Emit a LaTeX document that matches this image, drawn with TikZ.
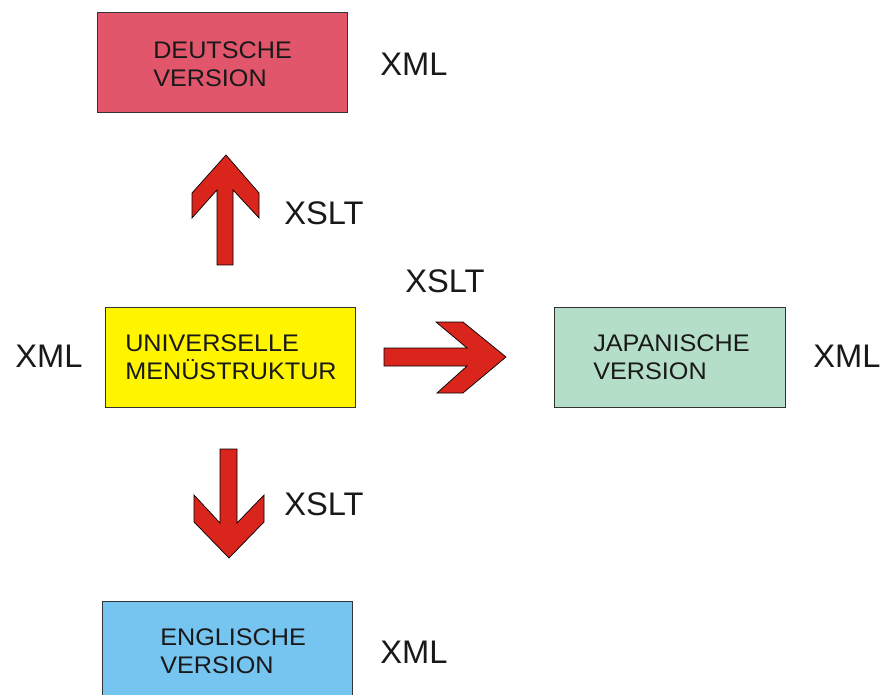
\documentclass[tikz,border=0pt]{standalone}
\usepackage{fontspec}
\setmainfont{Liberation Sans}
\newfontfamily\boxfont[FakeStretch=1.05]{Liberation Sans}
\newlength{\du}
\setlength{\du}{0.75pt}
\definecolor{deutschcolor}{rgb}{0.886000, 0.337000, 0.424000}
\definecolor{universalcolor}{rgb}{1.000000, 0.960000, 0.000000}
\definecolor{japancolor}{rgb}{0.710000, 0.871000, 0.784000}
\definecolor{englishcolor}{rgb}{0.463000, 0.769000, 0.941000}
\definecolor{arrowcolor}{rgb}{0.855000, 0.145000, 0.114000}
\definecolor{framecolor}{rgb}{0.200000, 0.200000, 0.200000}
\tikzset{
  versionbox/.style={draw=framecolor, line width=1.000000\du},
  blockarrow/.style={fill=arrowcolor, draw=black, line width=0.700000\du, line join=miter},
  boxtext/.style={anchor=west, inner sep=0pt, align=left,
    font=\boxfont\fontsize{18pt}{21.2pt}\selectfont, text=black!90},
  formatlabel/.style={anchor=west, inner sep=0pt,
    font=\fontsize{24.5pt}{28pt}\selectfont, text=black!90}
}
\begin{document}
\begin{tikzpicture}
\pgftransformxscale{1.000000}
\pgftransformyscale{-1.000000}
\useasboundingbox (0\du,0\du) rectangle (881\du,695\du);
% deutsche version
\fill[deutschcolor] (97.000000\du,13.000000\du)--(97.000000\du,113.000000\du)--(347.000000\du,113.000000\du)--(347.000000\du,13.000000\du)--cycle;
\draw[versionbox] (97.000000\du,13.000000\du)--(97.000000\du,113.000000\du)--(347.000000\du,113.000000\du)--(347.000000\du,13.000000\du)--cycle;
\node[boxtext] (deutsch) at (153.000000\du,64.000000\du){DEUTSCHE\\VERSION};
\node[formatlabel] (xmldeutsch) at (380.000000\du,64.000000\du){XML};
% universelle struktur
\fill[universalcolor] (105.000000\du,307.000000\du)--(105.000000\du,407.000000\du)--(355.000000\du,407.000000\du)--(355.000000\du,307.000000\du)--cycle;
\draw[versionbox] (105.000000\du,307.000000\du)--(105.000000\du,407.000000\du)--(355.000000\du,407.000000\du)--(355.000000\du,307.000000\du)--cycle;
\node[boxtext] (universal) at (125.000000\du,357.000000\du){UNIVERSELLE\\MENÜSTRUKTUR};
\node[formatlabel] (xmluniversal) at (15.000000\du,356.000000\du){XML};
% japanische version
\fill[japancolor] (554.000000\du,307.000000\du)--(554.000000\du,407.000000\du)--(785.000000\du,407.000000\du)--(785.000000\du,307.000000\du)--cycle;
\draw[versionbox] (554.000000\du,307.000000\du)--(554.000000\du,407.000000\du)--(785.000000\du,407.000000\du)--(785.000000\du,307.000000\du)--cycle;
\node[boxtext] (japan) at (593.000000\du,357.000000\du){JAPANISCHE\\VERSION};
\node[formatlabel] (xmljapan) at (813.000000\du,356.000000\du){XML};
% englische version
\fill[englishcolor] (102.000000\du,601.000000\du)--(102.000000\du,701.000000\du)--(352.000000\du,701.000000\du)--(352.000000\du,601.000000\du)--cycle;
\draw[versionbox] (102.000000\du,601.000000\du)--(102.000000\du,701.000000\du)--(352.000000\du,701.000000\du)--(352.000000\du,601.000000\du)--cycle;
\node[boxtext] (english) at (160.000000\du,651.000000\du){ENGLISCHE\\VERSION};
\node[formatlabel] (xmlenglish) at (380.000000\du,652.000000\du){XML};
% transformationen
\draw[blockarrow] (226.000000\du,155.000000\du)--(192.000000\du,193.000000\du)--(192.000000\du,218.000000\du)--(217.000000\du,190.000000\du)--(217.000000\du,265.000000\du)--(233.000000\du,265.000000\du)--(233.000000\du,190.000000\du)--(259.000000\du,218.000000\du)--(259.000000\du,193.000000\du)--cycle;
\node[formatlabel] (xsltdeutsch) at (284.000000\du,213.000000\du){XSLT};
\draw[blockarrow] (384.000000\du,348.000000\du)--(467.000000\du,348.000000\du)--(436.000000\du,322.000000\du)--(463.000000\du,322.000000\du)--(506.000000\du,357.000000\du)--(463.000000\du,393.000000\du)--(437.000000\du,393.000000\du)--(467.000000\du,366.000000\du)--(384.000000\du,366.000000\du)--cycle;
\node[formatlabel] (xsltjapan) at (405.000000\du,281.000000\du){XSLT};
\draw[blockarrow] (220.000000\du,449.000000\du)--(220.000000\du,523.000000\du)--(194.000000\du,495.000000\du)--(194.000000\du,522.000000\du)--(229.000000\du,558.000000\du)--(264.000000\du,522.000000\du)--(264.000000\du,495.000000\du)--(237.000000\du,523.000000\du)--(237.000000\du,449.000000\du)--cycle;
\node[formatlabel] (xsltenglish) at (284.000000\du,504.000000\du){XSLT};
\end{tikzpicture}
\end{document}
